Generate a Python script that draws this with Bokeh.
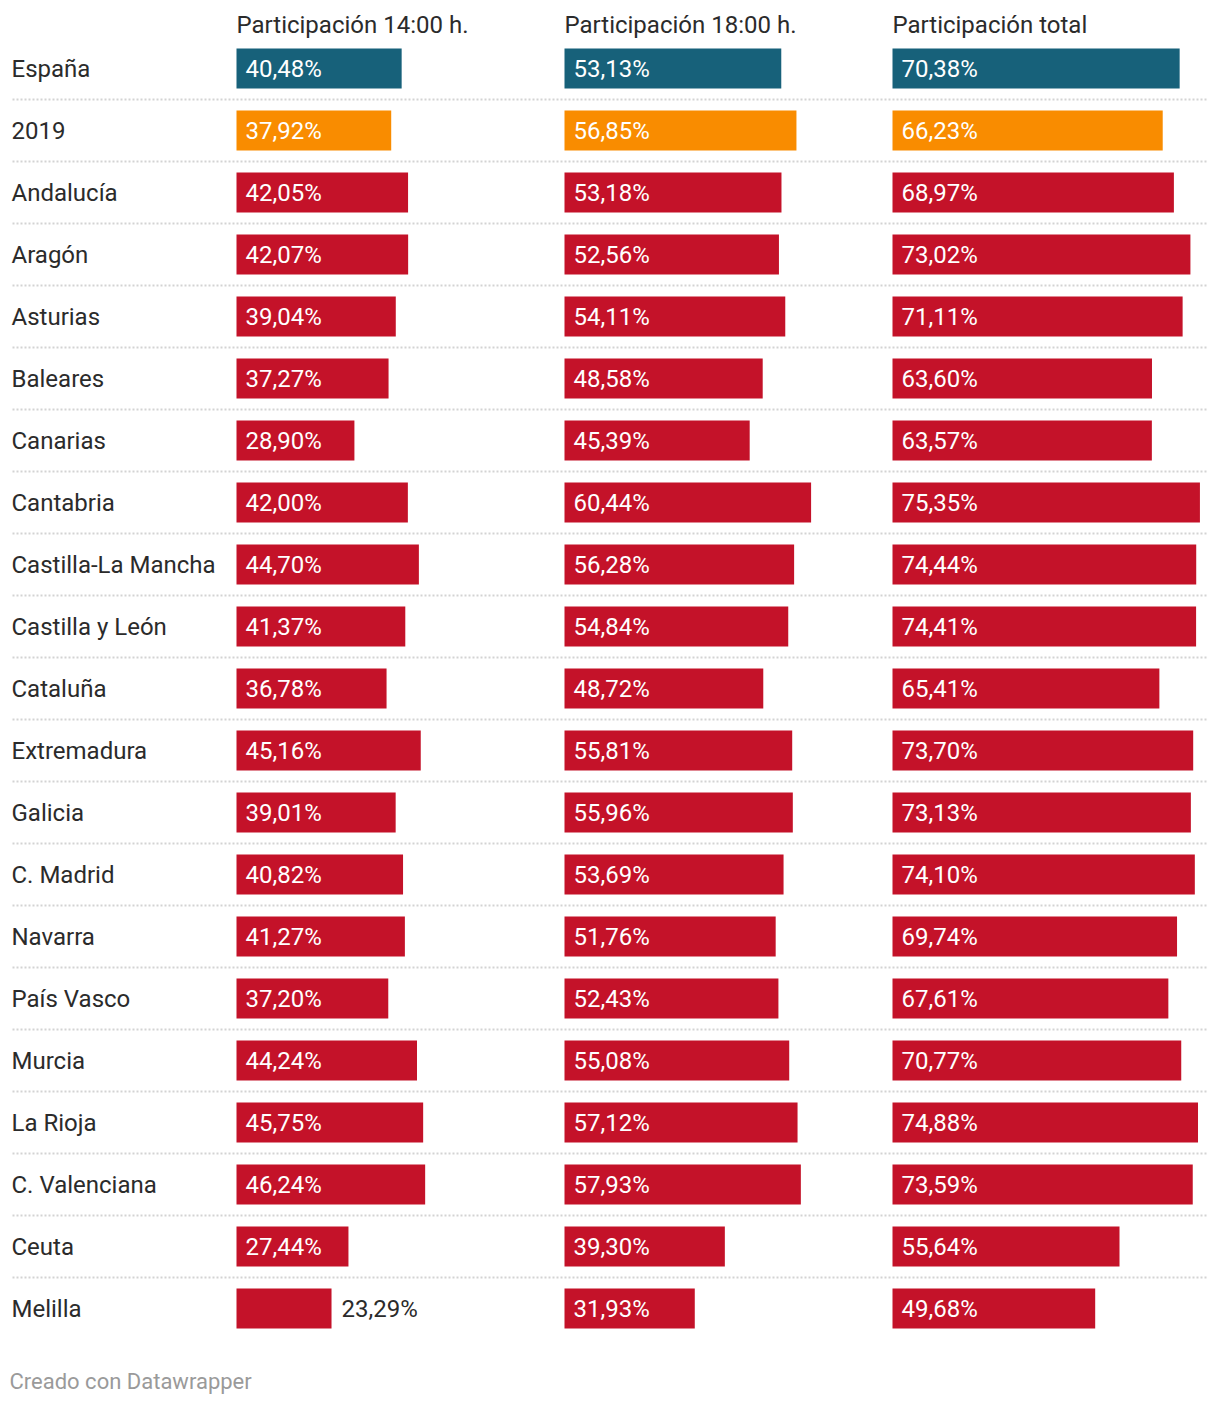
from bokeh.plotting import figure
from bokeh.models import Range1d, ColumnDataSource
from bokeh.embed import file_html
from bokeh.resources import INLINE
from bokeh.core.properties import value

regions = ["España", "2019", "Andalucía", "Aragón", "Asturias", "Baleares", "Canarias",
           "Cantabria", "Castilla-La Mancha", "Castilla y León", "Cataluña", "Extremadura",
           "Galicia", "C. Madrid", "Navarra", "País Vasco", "Murcia", "La Rioja",
           "C. Valenciana", "Ceuta", "Melilla"]
p14 = [40.48, 37.92, 42.05, 42.07, 39.04, 37.27, 28.90, 42.00, 44.70, 41.37, 36.78, 45.16,
       39.01, 40.82, 41.27, 37.20, 44.24, 45.75, 46.24, 27.44, 23.29]
p18 = [53.13, 56.85, 53.18, 52.56, 54.11, 48.58, 45.39, 60.44, 56.28, 54.84, 48.72, 55.81,
       55.96, 53.69, 51.76, 52.43, 55.08, 57.12, 57.93, 39.30, 31.93]
ptot = [70.38, 66.23, 68.97, 73.02, 71.11, 63.60, 63.57, 75.35, 74.44, 74.41, 65.41, 73.70,
        73.13, 74.10, 69.74, 67.61, 70.77, 74.88, 73.59, 55.64, 49.68]
headers = ["Participación 14:00 h.", "Participación 18:00 h.", "Participación total"]
credit = "Creado con Datawrapper"

TEAL, ORANGE, RED = "#17617a", "#f98c00", "#c41229"
colors = [TEAL, ORANGE] + [RED] * (len(regions) - 2)

W, H = 1220, 1400
ROW = 62.0
TOP = 68.0
PXPCT = 4.08
col_starts = [236, 564, 892]
FONT = "Roboto"
FS = "24px"
TXT = "#2b2b2b"

n = len(regions)
rows = list(range(n))

p = figure(width=W, height=H, output_backend="svg", toolbar_location=None,
           x_range=Range1d(0, W), y_range=Range1d((H - TOP) / ROW, -TOP / ROW),
           min_border=0, min_border_left=0, min_border_right=0,
           min_border_top=0, min_border_bottom=0)
p.axis.visible = False
p.grid.visible = False
p.outline_line_color = None
p.background_fill_color = "white"
p.border_fill_color = "white"

# separators
sep_y = [i + 0.5 for i in range(n - 1)]
p.segment(x0=12, x1=1208, y0=sep_y, y1=sep_y, line_color="#d3d3d3", line_width=2,
          line_dash="2 2")

# row labels
p.text(x=11, y=rows, text=regions, text_font=value(FONT), text_font_size=FS,
       text_color=TXT, text_baseline="middle", text_align="left")

for c, (vals, start, head) in enumerate(zip([p14, p18, ptot], col_starts, headers)):
    rname = f"c{c}"
    p.extra_x_ranges[rname] = Range1d(-start / PXPCT, (W - start) / PXPCT)
    src = ColumnDataSource(dict(y=rows, v=vals, color=colors))
    p.hbar(y="y", left=0, right="v", height=40 / ROW, fill_color="color",
           line_color=None, source=src, x_range_name=rname)
    lab = [f"{v:.2f}%".replace(".", ",") for v in vals]
    inside = [i for i, v in enumerate(vals) if v >= 25]
    outside = [i for i, v in enumerate(vals) if v < 25]
    p.text(x=[0] * len(inside), y=inside, text=[lab[i] for i in inside], x_offset=9,
           text_font=value(FONT), text_font_size=FS, text_color="white",
           text_baseline="middle", text_align="left", x_range_name=rname)
    if outside:
        p.text(x=[vals[i] for i in outside], y=outside, text=[lab[i] for i in outside],
               x_offset=10, text_font=value(FONT), text_font_size=FS, text_color=TXT,
               text_baseline="middle", text_align="left", x_range_name=rname)
    p.text(x=[0], y=[(24 - TOP) / ROW], text=[head], text_font=value(FONT),
           text_font_size=FS, text_color=TXT, text_baseline="middle", text_align="left",
           x_range_name=rname)

p.text(x=[9], y=[(1381 - TOP) / ROW], text=[credit], text_font=value(FONT),
       text_font_size="22px", text_color="#9a9a9a", text_baseline="middle",
       text_align="left")

open("out.html", "w").write(file_html(p, INLINE))
